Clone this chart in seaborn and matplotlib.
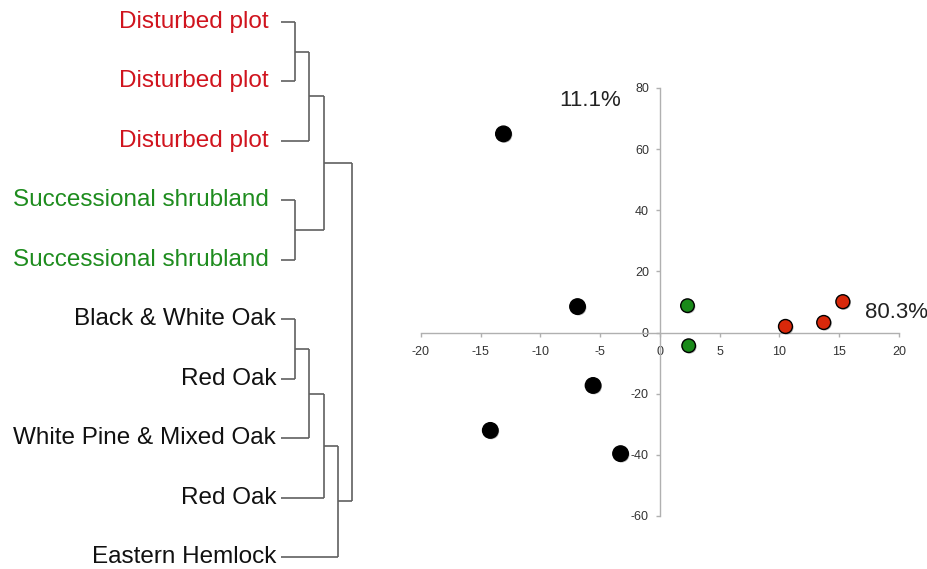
import numpy as np
import pandas as pd
import matplotlib
matplotlib.use("Agg")
import matplotlib.pyplot as plt
import matplotlib.patheffects as pe
import seaborn as sns

# dendrogram leaves (top to bottom) and their groups
leaf_labels = ["Disturbed plot", "Disturbed plot", "Disturbed plot",
               "Successional shrubland", "Successional shrubland",
               "Black & White Oak", "Red Oak", "White Pine & Mixed Oak",
               "Red Oak", "Eastern Hemlock"]
leaf_groups = ["disturbed"] * 3 + ["shrub"] * 2 + ["forest"] * 5

# merges: (child a, child b, height); new clusters numbered from 10
merge_a = [0, 10, 3, 11, 5, 14, 15, 16, 13]
merge_b = [1, 2, 4, 12, 6, 7, 8, 9, 17]
merge_h = [1, 2, 1, 3, 1, 2, 3, 4, 5]

# ordination scores (axis 1 = 80.3%, axis 2 = 11.1%)
pc1 = [-13.1, -6.9, -5.6, -14.2, -3.3, 2.3, 2.4, 10.5, 13.7, 15.3]
pc2 = [65.0, 8.5, -17.3, -32.0, -39.6, 8.8, -4.3, 2.0, 3.3, 10.1]
site_group = ["forest"] * 5 + ["shrub"] * 2 + ["disturbed"] * 3

label_colors = {"disturbed": "#d0141e", "shrub": "#1e8c1e", "forest": "#111111"}
dot_colors = {"forest": "#000000", "shrub": "#1a8a1a", "disturbed": "#d8280a"}
dot_sizes = {"forest": 125, "shrub": 95, "disturbed": 100}

sns.set_theme(style="white")
plt.rcParams["font.family"] = ["Liberation Sans", "DejaVu Sans"]
plt.rcParams["axes.unicode_minus"] = False

fig = plt.figure(figsize=(9.28, 5.69), dpi=100)
W, H = 928, 569

# ---- dendrogram ----
axd = fig.add_axes([281 / W, 1 - 557 / H, 71 / W, 535 / H])
axd.set_xlim(0, 5)
axd.set_ylim(9, 0)
axd.axis("off")

pos = {i: (float(i), 0.0) for i in range(len(leaf_labels))}
line_kw = dict(color="#606060", lw=1.2, clip_on=False, solid_capstyle="butt")
for k, (a, b, h) in enumerate(zip(merge_a, merge_b, merge_h)):
    ya, ha = pos[a]
    yb, hb = pos[b]
    axd.plot([ha, h], [ya, ya], **line_kw)
    axd.plot([hb, h], [yb, yb], **line_kw)
    axd.plot([h, h], [ya, yb], **line_kw)
    pos[10 + k] = ((ya + yb) / 2, h)

for i, (lab, g) in enumerate(zip(leaf_labels, leaf_groups)):
    off = -0.85 if g != "forest" else -0.35
    axd.text(off, i, lab, ha="right", va="center", fontsize=17.5,
             color=label_colors[g], clip_on=False)

# ---- scatter ----
ax = fig.add_axes([421 / W, 1 - 516 / H, 478 / W, 428 / H])
df = pd.DataFrame({"pc1": pc1, "pc2": pc2, "group": site_group})
sns.scatterplot(data=df, x="pc1", y="pc2", hue="group", palette=dot_colors,
                size="group", sizes=dot_sizes,
                edgecolor="black", linewidth=1.0, legend=False,
                ax=ax, zorder=3, clip_on=False)
for coll in ax.collections:
    coll.set_path_effects([pe.SimplePatchShadow(offset=(0.8, -0.8), alpha=0.3,
                                                shadow_rgbFace="black"),
                           pe.Normal()])

ax.set_xlim(-20, 20)
ax.set_ylim(-60, 80)
ax.set_xticks(np.arange(-20, 21, 5))
ax.set_yticks(np.arange(-60, 81, 20))
ax.set_xlabel("")
ax.set_ylabel("")
for side in ["top", "right"]:
    ax.spines[side].set_visible(False)
for side in ["left", "bottom"]:
    ax.spines[side].set_position("zero")
    ax.spines[side].set_color("#b0b0b0")
    ax.spines[side].set_linewidth(1.0)
ax.tick_params(axis="both", which="both", direction="out", length=3, width=1,
               color="#b0b0b0", labelsize=9, labelcolor="#333333")
ax.tick_params(axis="x", pad=7, bottom=True)
ax.tick_params(axis="y", pad=5, left=True)
ax.patch.set_alpha(0)

ax.text(-5.86, 76, "11.1%", ha="center", va="center", fontsize=16, color="#222222")
ax.text(19.8, 6.5, "80.3%", ha="center", va="center", fontsize=16,
        color="#222222", clip_on=False)

fig.savefig("out.png", dpi=100)
